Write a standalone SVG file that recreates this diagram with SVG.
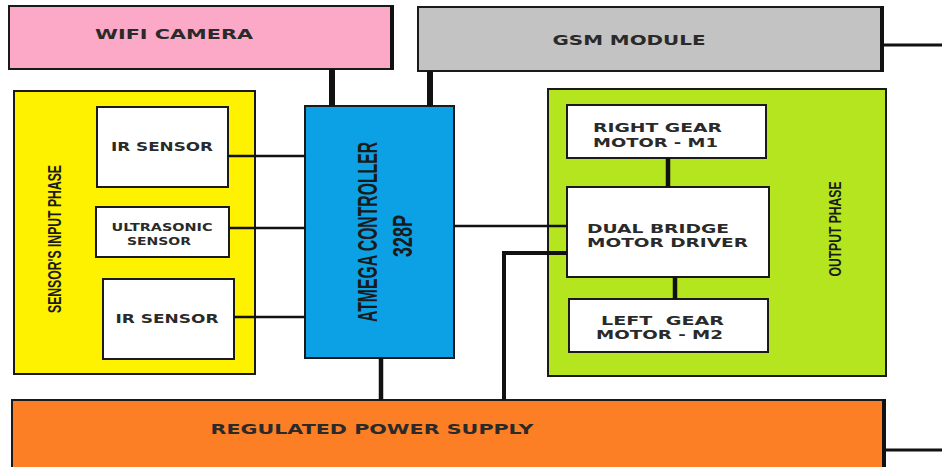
<svg xmlns="http://www.w3.org/2000/svg" width="942" height="467" viewBox="0 0 942 467">
<style>
.box{stroke:#1a1a1a;stroke-width:2}
.w{fill:#ffffff}
.lbl{font-family:"DejaVu Sans","Verdana",sans-serif;font-weight:bold;fill:#2a2a2a;font-size:12px}
.big{font-size:14px}
.rot{font-family:"Liberation Sans","Arial",sans-serif;font-weight:bold;fill:#1a1a1a}
.thin{stroke:#111;stroke-width:2.5;fill:none}
.thick{stroke:#111;stroke-width:6;fill:none}
.mid{stroke:#111;stroke-width:4.5;fill:none}
</style>
<rect width="942" height="467" fill="#ffffff"/>

<g id="wifi-camera">
<rect class="box" x="9" y="6" width="384" height="63" fill="#FBA9C6"/>
<line x1="392" y1="5" x2="392" y2="70" stroke="#111" stroke-width="4"/>
<text class="lbl big" x="174" y="39" text-anchor="middle" textLength="158" lengthAdjust="spacingAndGlyphs">WIFI CAMERA</text>
</g>

<g id="gsm-module">
<rect class="box" x="418" y="7" width="465" height="64" fill="#C3C3C3"/>
<line x1="882" y1="6" x2="882" y2="72" stroke="#111" stroke-width="4"/>
<text class="lbl big" x="629" y="45" text-anchor="middle" textLength="153" lengthAdjust="spacingAndGlyphs">GSM MODULE</text>
</g>

<g id="input-phase">
<rect class="box" x="14" y="91" width="241" height="283" fill="#FFF200"/>
<text class="rot" x="54" y="246" font-size="19" text-anchor="middle" transform="rotate(-90 54 239)" textLength="148" lengthAdjust="spacingAndGlyphs">SENSOR'S INPUT PHASE</text>
</g>

<g id="ir-sensor-1">
<rect class="box w" x="97" y="107" width="131" height="80"/>
<text class="lbl" x="162" y="151" text-anchor="middle" textLength="102" lengthAdjust="spacingAndGlyphs">IR SENSOR</text>
</g>

<g id="ultrasonic-sensor">
<rect class="box w" x="96" y="207" width="133" height="50"/>
<text class="lbl" x="162" y="231" text-anchor="middle" textLength="101" lengthAdjust="spacingAndGlyphs" style="font-size:11px">ULTRASONIC</text>
<text class="lbl" x="159" y="245" text-anchor="middle" textLength="64" lengthAdjust="spacingAndGlyphs" style="font-size:11px">SENSOR</text>
</g>

<g id="ir-sensor-2">
<rect class="box w" x="103" y="279" width="131" height="80"/>
<text class="lbl" x="167" y="323" text-anchor="middle" textLength="103" lengthAdjust="spacingAndGlyphs">IR SENSOR</text>
</g>

<g id="atmega-controller">
<rect class="box" x="305" y="106" width="149" height="252" fill="#0BA1E4"/>
<text class="rot" x="367" y="242" font-size="27" text-anchor="middle" transform="rotate(-90 367 232)" textLength="180" lengthAdjust="spacingAndGlyphs">ATMEGA CONTROLLER</text>
<text class="rot" x="402" y="246" font-size="27" text-anchor="middle" transform="rotate(-90 402 236)" textLength="42" lengthAdjust="spacingAndGlyphs">328P</text>
</g>

<g id="output-phase">
<rect class="box" x="548" y="89" width="338" height="287" fill="#B4E51E"/>
<text class="rot" x="835" y="235" font-size="16" text-anchor="middle" transform="rotate(-90 835 229)" textLength="95" lengthAdjust="spacingAndGlyphs">OUTPUT PHASE</text>
</g>

<g id="right-gear-motor">
<rect class="box w" x="567" y="105" width="199" height="53"/>
<text class="lbl" x="593" y="132" textLength="129" lengthAdjust="spacingAndGlyphs">RIGHT GEAR</text>
<text class="lbl" x="593" y="147" textLength="125" lengthAdjust="spacingAndGlyphs">MOTOR - M1</text>
</g>

<g id="dual-bridge-driver">
<rect class="box w" x="567" y="187" width="202" height="90"/>
<text class="lbl" x="587" y="233" textLength="142" lengthAdjust="spacingAndGlyphs">DUAL BRIDGE</text>
<text class="lbl" x="587" y="247" textLength="161" lengthAdjust="spacingAndGlyphs">MOTOR DRIVER</text>
</g>

<g id="left-gear-motor">
<rect class="box w" x="569" y="299" width="199" height="53"/>
<text class="lbl" x="601" y="325" textLength="123" lengthAdjust="spacingAndGlyphs" xml:space="preserve">LEFT  GEAR</text>
<text class="lbl" x="596" y="339" textLength="127" lengthAdjust="spacingAndGlyphs">MOTOR - M2</text>
</g>

<g id="power-supply">
<rect class="box" x="12" y="400" width="873" height="80" fill="#FC7F26"/>
<line x1="884" y1="399" x2="884" y2="467" stroke="#111" stroke-width="4"/>
<text class="lbl big" x="372" y="434" text-anchor="middle" textLength="323" lengthAdjust="spacingAndGlyphs">REGULATED POWER SUPPLY</text>
</g>

<g id="connectors">
<line class="thick" x1="332" y1="69" x2="332" y2="106"/>
<line class="thick" x1="430" y1="71" x2="430" y2="106"/>
<line class="thin" x1="228" y1="156" x2="305" y2="156"/>
<line class="thin" x1="229" y1="228" x2="305" y2="228"/>
<line class="thin" x1="234" y1="317" x2="305" y2="317"/>
<line class="thin" x1="454" y1="226" x2="567" y2="226"/>
<line class="mid" x1="668" y1="158" x2="668" y2="187"/>
<line class="mid" x1="675" y1="277" x2="675" y2="299"/>
<line class="mid" x1="381" y1="358" x2="381" y2="400"/>
<path class="mid" d="M504 400 V253 H567" style="stroke-width:4"/>
<line class="thin" x1="883" y1="45" x2="942" y2="45" style="stroke-width:3"/>
<line class="thin" x1="885" y1="450" x2="942" y2="450" style="stroke-width:3"/>
</g>
</svg>
